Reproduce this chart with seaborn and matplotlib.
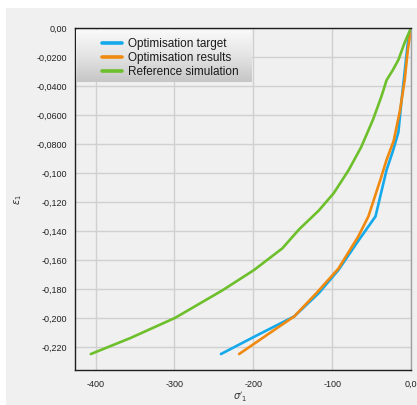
import matplotlib
matplotlib.use("Agg")
import numpy as np
import pandas as pd
import seaborn as sns
import matplotlib.pyplot as plt
from matplotlib.patches import Rectangle
from matplotlib.ticker import FixedLocator, FixedFormatter, MultipleLocator

# --- data: axial stress sigma'_1 vs axial strain epsilon_1 ---
target_stress = [0, -4, -8, -12, -16, -23, -31, -45, -67, -92, -117, -148, -195, -241]
target_strain = [0, -0.010, -0.030, -0.050, -0.072, -0.085, -0.098, -0.130, -0.147,
                 -0.167, -0.183, -0.199, -0.212, -0.225]

result_stress = [0, -4, -8, -14, -22, -31, -39, -54, -67, -92, -120, -148, -167, -218]
result_strain = [0, -0.015, -0.036, -0.057, -0.078, -0.091, -0.105, -0.130, -0.144,
                 -0.166, -0.183, -0.199, -0.206, -0.225]

reference_stress = [0, -8, -16, -23, -31, -35, -38, -48, -63, -79, -98, -117, -142,
                    -163, -199, -239, -299, -356, -406]
reference_strain = [0, -0.010, -0.022, -0.029, -0.036, -0.043, -0.048, -0.063, -0.082,
                    -0.098, -0.114, -0.126, -0.139, -0.152, -0.167, -0.181, -0.200,
                    -0.214, -0.225]

series_names = ["Optimisation target", "Optimisation results", "Reference simulation"]
series_colors = ["#14a9ea", "#f0890f", "#6dbf2b"]

x_ticks = [-400, -300, -200, -100, 0]
x_tick_labels = ["-400", "-300", "-200", "-100", "0,0"]
y_ticks = [0, -0.02, -0.04, -0.06, -0.08, -0.10, -0.12, -0.14, -0.16, -0.18, -0.20, -0.22]
y_tick_labels = ["0,00", "-0,0200", "-0,0400", "-0,0600", "-0,0800", "-0,100", "-0,120",
                 "-0,140", "-0,160", "-0,180", "-0,200", "-0,220"]

frames = []
for name, xs, ys in zip(series_names,
                        [target_stress, result_stress, reference_stress],
                        [target_strain, result_strain, reference_strain]):
    frames.append(pd.DataFrame({"stress": xs, "strain": ys, "series": name}))
df = pd.concat(frames, ignore_index=True)

sns.set_style("white")
plt.rcParams["font.family"] = ["Liberation Sans", "DejaVu Sans"]
plt.rcParams["mathtext.fontset"] = "dejavusans"

W, H = 417, 405
L, R, T, B = 75, 411, 28, 370          # plot frame in pixels
AW, AH = R - L, B - T

fig = plt.figure(figsize=(W / 100, H / 100), dpi=100, facecolor="white")
fig.patches.append(Rectangle((6 / W, 0), 1 - 6 / W, 1 - 8 / H, transform=fig.transFigure,
                             facecolor="#f0f0f0", edgecolor="none", zorder=-10))

ax = fig.add_axes([L / W, (H - B) / H, AW / W, AH / H])
ax.set_facecolor("#f0f0f0")

sns.lineplot(data=df, x="stress", y="strain", hue="series", hue_order=series_names,
             palette=dict(zip(series_names, series_colors)), sort=False,
             estimator=None, linewidth=1.9, ax=ax, legend=True)

ax.set_xlim(-426, 0)
ax.set_ylim(-0.236, 0)

ax.xaxis.set_major_locator(FixedLocator(x_ticks))
ax.xaxis.set_major_formatter(FixedFormatter(x_tick_labels))
ax.xaxis.set_minor_locator(MultipleLocator(50))
ax.yaxis.set_major_locator(FixedLocator(y_ticks))
ax.yaxis.set_major_formatter(FixedFormatter(y_tick_labels))
ax.yaxis.set_minor_locator(MultipleLocator(0.01))

ax.tick_params(axis="both", which="major", direction="out", length=4, width=0.8,
               colors="#333333", labelsize=6.5, pad=1.5, labelcolor="#222222")
ax.tick_params(axis="both", which="minor", direction="out", length=2, width=0.8,
               colors="#333333")
ax.tick_params(top=False, right=False, which="both")
ax.tick_params(axis="x", which="major", pad=3)

ax.grid(True, which="major", color="#d0d0d0", linewidth=1.0)
ax.set_axisbelow(True)

for side in ["left", "bottom", "top"]:
    ax.spines[side].set_color("#1e1e1e")
    ax.spines[side].set_linewidth(1.0)
ax.spines["right"].set_color("#a0a0a0")
ax.spines["right"].set_linewidth(1.0)

ax.set_xlabel(r"$\sigma'_1$", fontsize=7, color="#333333")
ax.set_ylabel(r"$\varepsilon_1$", fontsize=7, color="#333333")
ax.xaxis.set_label_coords((240 - L) / AW, (B - 390) / AH)
ax.yaxis.set_label_coords((24 - L) / AW, (B - 200) / AH)

# shaded legend panel
panel = ax.inset_axes([0.003, (B - 82) / AH, (252 - 76) / AW, (82 - 30) / AH], zorder=4)
grad = np.linspace(0, 1, 64).reshape(-1, 1)
panel.imshow(grad, aspect="auto", cmap=matplotlib.colors.LinearSegmentedColormap.from_list(
    "panel", ["#f9f9f9", "#e4e4e4", "#c6c6c6"]), extent=[0, 1, 0, 1])
panel.set_xticks([])
panel.set_yticks([])
for s in panel.spines.values():
    s.set_visible(False)

handles, labels = ax.get_legend_handles_labels()
leg = ax.legend(handles, labels, loc="upper left",
                bbox_to_anchor=((102 - L) / AW, (B - 38) / AH),
                frameon=False, fontsize=8.5, handlelength=1.7, handletextpad=0.5,
                labelspacing=0.18, borderpad=0, borderaxespad=0)
leg.set_zorder(6)
for line in leg.get_lines():
    line.set_linewidth(2.6)
for t in leg.get_texts():
    t.set_color("#1a1a1a")

fig.savefig("out.png", dpi=100, facecolor=fig.get_facecolor())
